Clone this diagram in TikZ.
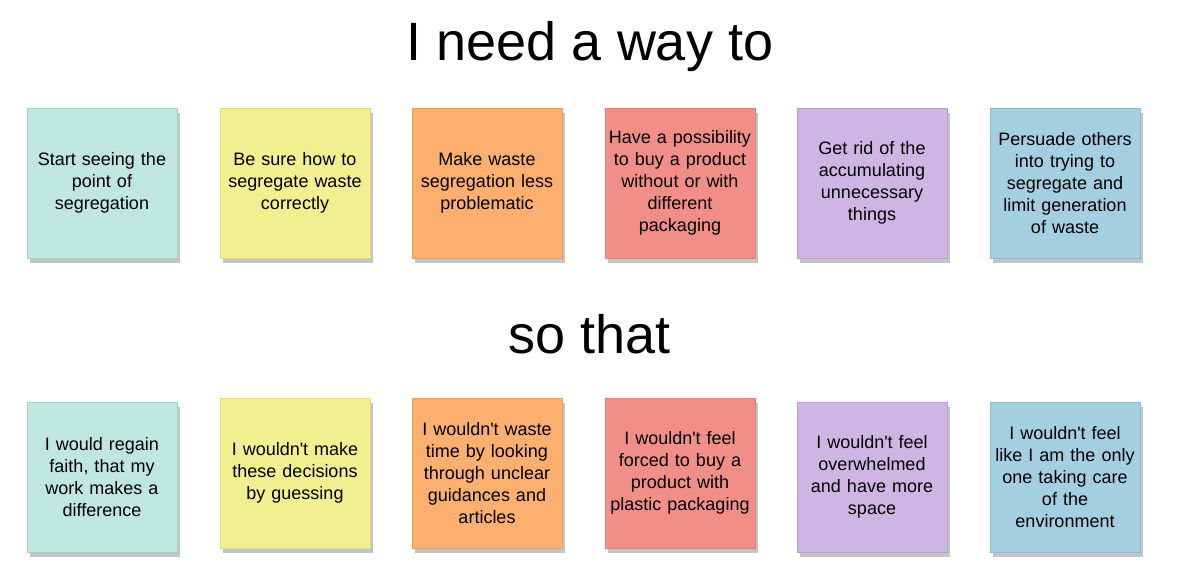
\documentclass[tikz,border=0pt]{standalone}
\usepackage{fontspec}
\setmainfont{Liberation Sans}
\usetikzlibrary{shadows}

\definecolor{tealfill}{HTML}{BFE6DF}
\definecolor{tealline}{HTML}{A0D5CA}
\definecolor{yellowfill}{HTML}{F1EF8F}
\definecolor{yellowline}{HTML}{E3DC6E}
\definecolor{orangefill}{HTML}{FCAF6E}
\definecolor{orangeline}{HTML}{F39C58}
\definecolor{redfill}{HTML}{F28E88}
\definecolor{redline}{HTML}{E97C77}
\definecolor{purplefill}{HTML}{CFB5E3}
\definecolor{purpleline}{HTML}{B99ECF}
\definecolor{bluefill}{HTML}{A4CFE0}
\definecolor{blueline}{HTML}{8CBED2}
\definecolor{shadowgray}{HTML}{C4C4C4}

\newcommand{\apos}{\textquotesingle}

\tikzset{
  note/.style={draw, line width=1pt, minimum width=150pt, minimum height=150pt,
    text width=144pt, inner sep=0pt, align=center,
    font=\fontsize{18pt}{22pt}\selectfont,
    drop shadow={shadow xshift=3pt, shadow yshift=-5pt, fill=shadowgray, opacity=1}},
  tealnote/.style={note, fill=tealfill, draw=tealline},
  yellownote/.style={note, fill=yellowfill, draw=yellowline},
  orangenote/.style={note, fill=orangefill, draw=orangeline},
  rednote/.style={note, fill=redfill, draw=redline},
  purplenote/.style={note, fill=purplefill, draw=purpleline},
  bluenote/.style={note, fill=bluefill, draw=blueline},
  heading/.style={anchor=base, font=\fontsize{54pt}{60pt}\selectfont}
}

\begin{document}
\begin{tikzpicture}[x=1pt, y=-1pt]
  \useasboundingbox (0, 0) rectangle (1180, 582);

  % first row
  \node (needway) [heading] at (590, 60) {I need a way to};
  \node (need1) [tealnote] at (102, 183) {Start seeing the\\point of\\segregation};
  \node (need2) [yellownote] at (295, 183) {Be sure how to\\segregate waste\\correctly};
  \node (need3) [orangenote] at (487, 183) {Make waste\\segregation less\\problematic};
  \node (need4) [rednote] at (680, 183) {Have a possibility\\to buy a product\\without or with\\different\\packaging};
  \node (need5) [purplenote] at (872, 183) {Get rid of the\\accumulating\\unnecessary\\things};
  \node (need6) [bluenote] at (1065, 183) {Persuade others\\into trying to\\segregate and\\limit generation\\of waste};

  % second row
  \node (sothat) [heading] at (590, 353) {so that};
  \node (gain1) [tealnote] at (102, 477) {I would regain\\faith, that my\\work makes a\\difference};
  \node (gain2) [yellownote] at (295, 473) {I wouldn\apos t make\\these decisions\\by guessing};
  \node (gain3) [orangenote] at (487, 473) {I wouldn\apos t waste\\time by looking\\through unclear\\guidances and\\articles};
  \node (gain4) [rednote] at (680, 473) {I wouldn\apos t feel\\forced to buy a\\product with\\plastic packaging};
  \node (gain5) [purplenote] at (872, 477) {I wouldn\apos t feel\\overwhelmed\\and have more\\space};
  \node (gain6) [bluenote] at (1065, 477) {I wouldn\apos t feel\\like I am the only\\one taking care\\of the\\environment};
\end{tikzpicture}
\end{document}
